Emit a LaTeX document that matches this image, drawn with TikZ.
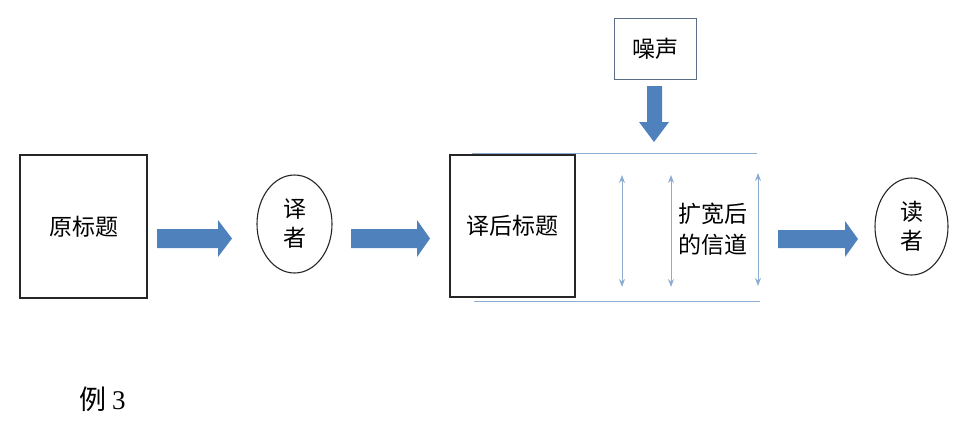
\documentclass[tikz,border=0pt]{standalone}
\usepackage{fontspec}
\newfontfamily\cjk{Noto Sans CJK SC}
\newfontfamily\serifnum{Liberation Serif}
\usetikzlibrary{shapes.geometric,arrows.meta}
\definecolor{arrowblue}{RGB}{79,129,189}
\definecolor{lineblue}{RGB}{140,172,210}
\definecolor{boxgray}{RGB}{90,110,135}
\tikzset{
  blockbox/.style={draw=black!85, line width=1.4pt, inner sep=0pt, font=\cjk\fontsize{23}{27}\selectfont},
  roundbox/.style={draw=black!85, line width=1.1pt, ellipse, inner sep=0pt, font=\cjk\fontsize{23}{29}\selectfont, align=center},
  fatarrow/.style={fill=arrowblue, draw=none},
  thinline/.style={draw=lineblue, line width=1pt},
  dblarrow/.style={draw=lineblue, line width=0.9pt, {Stealth[length=8pt,width=6pt]}-{Stealth[length=8pt,width=6pt]}},
}
\begin{document}
\begin{tikzpicture}[x=1pt,y=-1pt]
\useasboundingbox (0,0) rectangle (960,421);
% boxes
\node[blockbox, minimum width=127pt, minimum height=143pt] (src) at (83.5,226.5) {原标题};
\node[roundbox, minimum width=75pt, minimum height=98pt] (tr) at (294.5,224) {译\\者};
\node[blockbox, minimum width=125pt, minimum height=142pt] (dst) at (512.5,226) {译后标题};
\node[draw=boxgray, line width=0.9pt, inner sep=0pt, minimum width=82pt, minimum height=61pt, font=\cjk\fontsize{23}{27}\selectfont] (noise) at (655,48.5) {噪声};
\node[roundbox, minimum width=73pt, minimum height=97pt] (rd) at (911.5,226.5) {读\\者};
% channel lines
\coordinate (t1) at (472,153); \coordinate (t2) at (757,153);
\coordinate (b1) at (474,301); \coordinate (b2) at (760,301);
\draw[thinline] (t1) -- (t2);
\draw[thinline] (b1) -- (b2);
% double arrows
\coordinate (d1a) at (622,175); \coordinate (d1b) at (622,287);
\coordinate (d2a) at (671,175); \coordinate (d2b) at (671,287);
\coordinate (d3a) at (758,173); \coordinate (d3b) at (758,286);
\draw[dblarrow] (d1a) -- (d1b);
\draw[dblarrow] (d2a) -- (d2b);
\draw[dblarrow] (d3a) -- (d3b);
\node[font=\cjk\fontsize{23}{31}\selectfont, align=center, inner sep=0pt] (ch) at (713,229) {扩宽后\\的信道};
% block arrows
\fill[fatarrow] (157,229) -- (218,229) -- (218,220) -- (232,238.5) -- (218,257) -- (218,248) -- (157,248) -- cycle;
\fill[fatarrow] (351,229) -- (417,229) -- (417,220) -- (430,238.5) -- (417,257) -- (417,248) -- (351,248) -- cycle;
\fill[fatarrow] (778,230) -- (845,230) -- (845,221) -- (858,239) -- (845,257) -- (845,248) -- (778,248) -- cycle;
\fill[fatarrow] (647,86) -- (647,122) -- (639,122) -- (654,142) -- (669,122) -- (662,122) -- (662,86) -- cycle;
% caption
\node[font=\cjk\fontsize{27}{31}\selectfont, anchor=west, inner sep=0pt] (cap) at (79,399) {例 {\serifnum 3}};
\end{tikzpicture}
\end{document}
